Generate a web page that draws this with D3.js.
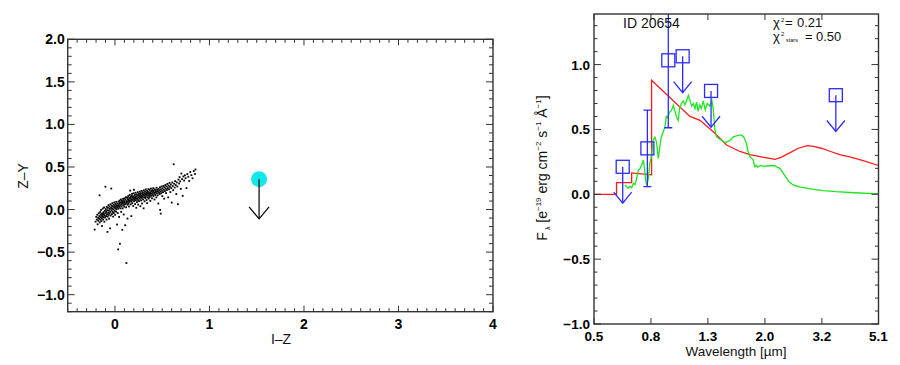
<!DOCTYPE html>
<html><head><meta charset="utf-8">
<script src="https://cdn.jsdelivr.net/npm/d3@7"></script>
<style>
html,body{margin:0;padding:0;background:#fff;}
text{font-family:"Liberation Sans",Arial,Helvetica,sans-serif;}
</style></head>
<body>
<svg id="c" width="900" height="365"></svg>
<script>
// ---------- DATA ----------
// Left panel: field sources, flat list of (I-Z, Z-Y) pairs
const scatterIZZY = [
-0.215,-0.235,-0.205,-0.142,-0.198,-0.085,-0.192,-0.118,-0.187,-0.061,-0.183,-0.173,-0.178,-0.097,-0.176,-0.132,
-0.171,-0.044,-0.168,-0.108,-0.165,-0.076,-0.163,0.168,-0.161,-0.151,-0.157,-0.029,-0.155,-0.091,-0.152,-0.118,
-0.149,-0.057,-0.147,-0.004,-0.144,-0.136,-0.142,-0.072,-0.139,-0.101,-0.137,-0.193,-0.135,-0.046,-0.132,-0.083,
-0.129,0.012,-0.127,-0.062,-0.125,-0.117,-0.122,-0.031,-0.119,-0.089,-0.117,-0.052,-0.115,0.024,-0.112,-0.143,
-0.109,-0.068,-0.107,-0.015,-0.104,-0.094,-0.101,0.268,-0.099,-0.041,-0.097,0.005,-0.094,-0.077,-0.092,-0.026,
-0.089,-0.118,-0.087,0.031,-0.084,-0.055,-0.082,-0.008,-0.079,-0.262,-0.077,-0.083,-0.075,0.019,-0.072,-0.037,
-0.069,0.052,-0.067,-0.064,-0.064,-0.012,-0.062,-0.107,-0.059,0.036,-0.057,-0.046,-0.055,0.008,-0.052,-0.221,
-0.049,-0.027,-0.047,0.063,-0.045,-0.071,-0.042,0.021,-0.039,0.247,-0.037,-0.009,-0.035,0.044,-0.032,-0.053,
-0.029,0.011,-0.027,0.075,-0.024,-0.028,-0.022,0.037,-0.019,-0.083,-0.017,0.002,-0.014,0.058,-0.012,-0.041,
-0.009,0.026,-0.006,0.084,-0.004,-0.015,-0.001,0.047,0.002,-0.062,0.004,0.013,0.007,0.066,0.009,0.032,
0.012,-0.024,0.014,0.091,0.017,0.004,0.019,0.051,0.022,-0.176,0.024,0.027,0.027,0.072,0.029,-0.041,
0.032,0.043,0.034,-0.468,0.036,0.011,0.039,0.095,0.041,0.058,0.044,-0.087,0.046,0.031,0.049,0.077,
0.051,0.106,0.053,-0.402,0.056,0.048,0.058,0.014,0.061,0.084,0.063,0.119,0.066,-0.027,0.068,0.062,
0.071,0.036,0.073,0.101,0.076,0.074,0.078,-0.238,0.081,0.013,0.083,0.089,0.086,0.126,0.088,0.052,
0.091,0.109,0.093,-0.058,0.096,0.078,0.098,0.034,0.101,0.132,0.103,0.094,0.106,0.061,0.108,-0.184,
0.111,0.117,0.113,0.073,0.116,0.145,0.118,0.026,0.121,-0.628,0.123,0.101,0.126,0.082,0.128,0.139,
0.131,0.057,0.133,-0.106,0.136,0.121,0.138,0.093,0.141,0.158,0.143,0.068,0.146,0.112,0.148,0.036,
0.151,0.137,0.153,0.089,0.156,0.172,0.158,0.104,0.161,0.223,0.163,0.127,0.166,0.061,0.168,0.148,
0.171,0.096,0.173,-0.077,0.176,0.163,0.178,0.118,0.181,0.184,0.183,0.075,0.186,0.139,0.188,0.107,
0.191,0.156,0.193,0.042,0.196,0.128,0.198,0.191,0.201,0.232,0.203,0.097,0.206,0.145,0.208,0.118,
0.211,0.171,0.213,0.064,0.216,0.136,0.218,0.198,0.221,0.109,0.223,0.152,0.226,0.021,0.228,0.127,
0.231,0.179,0.233,0.087,0.236,0.161,0.238,0.134,0.241,0.204,0.244,0.112,0.246,0.058,0.249,0.168,
0.251,0.142,0.254,0.186,0.256,0.098,0.259,0.153,0.262,0.211,0.264,0.127,0.267,0.174,0.269,0.039,
0.272,0.148,0.274,0.193,0.277,0.108,0.279,0.161,0.282,0.219,0.285,0.137,0.287,0.071,0.290,0.182,
0.292,0.156,0.295,0.203,0.297,0.119,0.300,0.172,0.303,0.014,0.305,0.226,0.308,0.145,0.310,0.191,
0.313,0.097,0.315,0.167,0.318,0.212,0.321,0.134,0.323,0.181,0.326,0.238,0.328,0.152,0.331,0.198,
0.334,0.112,0.336,0.173,0.339,0.221,0.341,0.076,0.344,0.186,0.347,0.143,0.349,0.207,0.352,0.164,
0.355,0.241,0.357,0.128,0.360,0.193,0.363,0.172,0.366,0.229,0.368,0.148,0.371,0.204,0.374,0.101,
0.377,0.183,0.380,0.247,0.383,0.161,0.386,0.216,0.389,0.192,0.392,0.132,0.395,0.229,0.398,0.174,
0.401,0.205,0.405,0.251,0.408,0.158,0.411,0.219,0.414,0.186,0.418,0.118,0.421,0.238,0.424,0.197,
0.428,0.171,0.431,0.226,0.434,0.209,0.438,0.143,0.441,0.256,0.445,0.191,0.448,0.232,0.452,0.167,
0.455,0.214,0.459,0.071,0.462,0.243,0.466,0.198,0.469,0.226,0.473,0.181,0.476,0.262,0.478,-0.004,
0.481,0.212,0.484,-0.048,0.486,0.238,0.490,0.192,0.494,0.271,0.497,0.221,0.501,0.158,0.505,0.249,
0.509,0.204,0.513,0.277,0.517,0.232,0.521,0.128,0.525,0.261,0.529,0.216,0.533,0.289,0.537,0.244,
0.541,0.193,0.546,0.272,0.550,0.229,0.554,0.301,0.559,0.253,0.563,0.143,0.568,0.281,0.572,0.238,
0.577,0.312,0.581,0.267,0.586,0.206,0.591,0.294,0.596,0.251,0.601,0.082,0.606,0.318,0.611,0.276,
0.616,0.227,0.621,0.532,0.626,0.303,0.632,0.258,0.637,0.334,0.643,0.287,0.649,0.182,0.654,0.319,
0.660,0.271,0.666,0.063,0.672,0.352,0.678,0.306,0.684,0.381,0.690,0.331,0.697,0.243,0.703,0.423,
0.710,0.358,0.717,0.161,0.724,0.389,0.732,0.341,0.740,0.402,0.748,0.368,0.757,0.252,0.766,0.417,
0.776,0.386,0.786,0.336,0.797,0.441,0.809,0.404,0.821,0.367,0.834,0.452,0.847,0.418,0.852,0.471
];
const targetIZ = 1.525, targetZY = 0.357, targetZYlimit = -0.11;
const leftXTicks = [0,1,2,3,4];
const leftYTicks = [-1.0,-0.5,0.0,0.5,1.0,1.5,2.0];

// Right panel: SED
const modelWl   = [0.50,0.601,0.601,0.680,0.680,0.800,0.800,1.094,1.188,1.342,1.476,1.645,1.785,2.00,2.19,2.30,2.45,2.65,2.85,3.00,3.20,3.45,3.72,4.10,4.50,5.10];
const modelFlux = [0.0,0.0,0.09,0.09,0.165,0.150,0.879,0.60,0.57,0.47,0.38,0.33,0.305,0.285,0.27,0.285,0.315,0.355,0.375,0.37,0.355,0.33,0.305,0.285,0.26,0.222];
const starWl   = [0.644,0.652,0.661,0.670,0.680,0.690,0.699,0.708,0.718,0.728,0.738,0.748,0.755,0.762,0.769,0.779,0.789,0.800,0.811,0.822,0.833,0.845,0.855,0.866,0.880,0.892,0.902,0.912,0.925,0.942,0.955,0.968,0.980,0.995,1.005,1.020,1.037,1.050,1.060,1.080,1.095,1.110,1.125,1.140,1.155,1.170,1.185,1.200,1.220,1.240,1.260,1.288,1.310,1.323,1.342,1.360,1.385,1.410,1.436,1.470,1.500,1.530,1.558,1.600,1.645,1.668,1.700,1.730,1.760,1.785,1.83,1.86,1.88,1.90,1.95,2.00,2.045,2.10,2.19,2.23,2.28,2.35,2.45,2.54,2.70,3.00,3.25,3.60,4.20,5.10];
const starFlux = [0.072,0.058,0.046,0.062,0.050,0.085,0.075,0.12,0.187,0.20,0.226,0.264,0.20,0.11,0.07,0.12,0.24,0.30,0.418,0.44,0.40,0.277,0.36,0.44,0.48,0.52,0.60,0.59,0.63,0.648,0.686,0.64,0.60,0.57,0.66,0.70,0.72,0.69,0.71,0.763,0.72,0.68,0.70,0.66,0.71,0.64,0.69,0.66,0.72,0.65,0.70,0.68,0.72,0.66,0.494,0.443,0.43,0.42,0.405,0.40,0.41,0.42,0.443,0.45,0.456,0.456,0.44,0.40,0.33,0.29,0.27,0.212,0.225,0.21,0.222,0.215,0.218,0.22,0.22,0.21,0.20,0.16,0.10,0.072,0.055,0.038,0.028,0.02,0.012,0.003];
// photometry: wavelength, flux, error (0 = upper limit)
const photWl    = [0.632,0.773,0.917,1.031,1.300,3.60];
const photFlux  = [0.212,0.354,1.033,1.064,0.797,0.764];
const photErr   = [0,0.295,0.52,0,0,0];
const limitDrop = 0.28;
const rightXTicks = [0.5,0.796,1.267,2.018,3.213,5.1];
const rightXLabels = ["0.5","0.8","1.3","2.0","3.2","5.1"];
const rightYTicks = [-1.0,-0.5,0.0,0.5,1.0];

// ---------- DRAW ----------
const svg = d3.select("#c");
const frameCol = "#333";
const fmtMinus = v => (v<0?"\u2212":"") + Math.abs(v).toFixed(1);

function frameAxes(g, x, y, opt){
  const [x0,x1] = x.range(), [y0,y1] = y.range();
  const tk = g.append("g").attr("stroke",frameCol).attr("stroke-width",1);
  opt.yMinor.forEach(v=>{
    const yy = y(v);
    tk.append("line").attr("x1",x0).attr("x2",x0+opt.yMinorLen).attr("y1",yy).attr("y2",yy);
    tk.append("line").attr("x1",x1).attr("x2",x1-opt.yMinorLen).attr("y1",yy).attr("y2",yy);
  });
  opt.yMajor.forEach(v=>{
    const yy = y(v);
    tk.append("line").attr("x1",x0).attr("x2",x0+opt.yMajorLen).attr("y1",yy).attr("y2",yy);
    tk.append("line").attr("x1",x1).attr("x2",x1-opt.yMajorLen).attr("y1",yy).attr("y2",yy);
  });
  opt.xMinor.forEach(v=>{
    const xx = x(v);
    tk.append("line").attr("x1",xx).attr("x2",xx).attr("y1",y0).attr("y2",y0-opt.xMinorLen);
    tk.append("line").attr("x1",xx).attr("x2",xx).attr("y1",y1).attr("y2",y1+opt.xMinorLen);
  });
  opt.xMajor.forEach(v=>{
    const xx = x(v);
    tk.append("line").attr("x1",xx).attr("x2",xx).attr("y1",y0).attr("y2",y0-opt.xMajorLen);
    tk.append("line").attr("x1",xx).attr("x2",xx).attr("y1",y1).attr("y2",y1+opt.xMajorLen);
  });
  g.append("rect").attr("x",x0).attr("y",y1).attr("width",x1-x0).attr("height",y0-y1)
    .attr("fill","none").attr("stroke",frameCol).attr("stroke-width",1.4);
  const lab = g.append("g").attr("font-size",opt.fs).attr("font-weight","bold").attr("fill","#000");
  opt.xMajor.forEach((v,i)=>{
    lab.append("text").attr("x",x(v)).attr("y",y0+opt.xLabOff).attr("text-anchor","middle")
      .text(opt.xFmt(v,i));
  });
  opt.yMajor.forEach(v=>{
    lab.append("text").attr("x",x0-opt.yLabOff).attr("y",y(v)+5).attr("text-anchor","end")
      .text(fmtMinus(v));
  });
}

// ----- Left panel -----
const xL = d3.scaleLinear().domain([-0.5,4]).range([67.7,493]);
const yL = d3.scaleLinear().domain([-1.2,2.0]).range([311.7,39.3]);
const gL = svg.append("g");
const leftPts = d3.range(0, scatterIZZY.length, 2).map(i=>[scatterIZZY[i], scatterIZZY[i+1]]);
gL.append("g").selectAll("rect").data(leftPts).join("rect")
  .attr("x",d=>xL(d[0])-0.9).attr("y",d=>yL(d[1])-0.9).attr("width",1.8).attr("height",1.8)
  .attr("fill","#000");
gL.append("circle").attr("cx",xL(targetIZ)).attr("cy",yL(targetZY)).attr("r",8).attr("fill","#12e8ea");
const ax = xL(targetIZ), ayT = yL(targetZYlimit);
gL.append("line").attr("x1",ax).attr("x2",ax).attr("y1",yL(targetZY)).attr("y2",ayT).attr("stroke","#000").attr("stroke-width",1.2);
gL.append("polyline").attr("points",`${ax-10},${ayT-12} ${ax},${ayT} ${ax+10},${ayT-12}`)
  .attr("fill","none").attr("stroke","#000").attr("stroke-width",1.2);
frameAxes(gL,xL,yL,{
  yMajor:leftYTicks, yMinor:d3.range(-12,21).map(v=>v/10).filter(v=>Math.abs(v*2-Math.round(v*2))>1e-6),
  xMajor:leftXTicks, xMinor:d3.range(-5,41).map(v=>v/10).filter(v=>Math.abs(v-Math.round(v))>1e-6),
  yMajorLen:7, yMinorLen:4, xMajorLen:6, xMinorLen:3.5, fs:14,
  xLabOff:17.5, yLabOff:3, xFmt:v=>String(v)
});
gL.append("text").attr("x",281).attr("y",344).attr("text-anchor","middle").attr("font-size",14).attr("fill","#111").text("I\u2013Z");
gL.append("text").attr("transform","translate(28,176) rotate(-90)").attr("text-anchor","middle").attr("font-size",14).attr("fill","#111").text("Z\u2013Y");

// ----- Right panel -----
const xR = d3.scaleLog().domain([0.5,5.1]).range([594,878.5]);
const yR = d3.scaleLinear().domain([-1.0,1.39]).range([324,14]);
const gR = svg.append("g");
svg.append("defs").append("clipPath").attr("id","clipR").append("rect")
  .attr("x",594).attr("y",14).attr("width",284.5).attr("height",310);
const plotR = gR.append("g").attr("clip-path","url(#clipR)");
const line = d3.line().x(d=>xR(d[0])).y(d=>yR(d[1]));
plotR.append("path").attr("d",line(modelWl.map((w,i)=>[w,modelFlux[i]])))
  .attr("fill","none").attr("stroke","#ff1a1a").attr("stroke-width",1.3);
plotR.append("path").attr("d",line(starWl.map((w,i)=>[w,starFlux[i]])))
  .attr("fill","none").attr("stroke","#1ee61e").attr("stroke-width",1.3);
const blue = "#2b2bff";
const pg = plotR.append("g").attr("stroke",blue).attr("fill","none").attr("stroke-width",1.3);
photWl.forEach((w,i)=>{
  const cx = xR(w), cy = yR(photFlux[i]);
  pg.append("rect").attr("x",cx-6.5).attr("y",cy-6.5).attr("width",13).attr("height",13);
  if(photErr[i]>0){
    const yt = yR(photFlux[i]+photErr[i]), yb = yR(photFlux[i]-photErr[i]);
    pg.append("line").attr("x1",cx).attr("x2",cx).attr("y1",yt).attr("y2",yb);
    pg.append("line").attr("x1",cx-4).attr("x2",cx+4).attr("y1",yt).attr("y2",yt);
    pg.append("line").attr("x1",cx-4).attr("x2",cx+4).attr("y1",yb).attr("y2",yb);
  } else {
    const yt = yR(photFlux[i]-limitDrop);
    pg.append("line").attr("x1",cx).attr("x2",cx).attr("y1",cy).attr("y2",yt);
    pg.append("polyline").attr("points",`${cx-9},${yt-11} ${cx},${yt} ${cx+9},${yt-11}`);
  }
});
frameAxes(gR,xR,yR,{
  yMajor:rightYTicks, yMinor:d3.range(-10,14).map(v=>v/10).filter(v=>Math.abs(v*2-Math.round(v*2))>1e-6),
  xMajor:rightXTicks, xMinor:[],
  yMajorLen:7, yMinorLen:3.5, xMajorLen:6, xMinorLen:0, fs:13.5,
  xLabOff:17, yLabOff:4, xFmt:(v,i)=>rightXLabels[i]
});
gR.append("text").attr("x",736).attr("y",356).attr("text-anchor","middle").attr("font-size",13.5).attr("fill","#111").text("Wavelength [\u00b5m]");
const yt = gR.append("text").attr("transform","translate(547,168) rotate(-90)").attr("text-anchor","middle").attr("font-size",14).attr("fill","#111");
yt.append("tspan").text("F");
yt.append("tspan").attr("font-size",7).attr("dy",3).text("\u00a0\u03bb\u00a0\u00a0");
yt.append("tspan").attr("dy",-3).text("[e");
yt.append("tspan").attr("font-size",8).attr("dy",-6).text("\u221219");
yt.append("tspan").attr("dy",6).text(" erg cm");
yt.append("tspan").attr("font-size",8).attr("dy",-6).text("\u22122");
yt.append("tspan").attr("dy",6).text(" s");
yt.append("tspan").attr("font-size",8).attr("dy",-6).text("\u22121");
yt.append("tspan").attr("dy",6).text(" \u00c5");
yt.append("tspan").attr("font-size",8).attr("dy",-6).text("\u22121");
yt.append("tspan").attr("dy",6).text("]");

gR.append("text").attr("x",623).attr("y",28).attr("font-size",14).attr("fill","#111").text("ID 20654");
const c1 = gR.append("text").attr("y",27).attr("font-size",13).attr("fill","#111");
c1.append("tspan").attr("x",773).text("\u03c7");
c1.append("tspan").attr("x",781).attr("font-size",6).attr("dy",-5).text("2");
c1.append("tspan").attr("x",785).attr("dy",5).text("=");
c1.append("tspan").attr("x",797).text("0.21");
const c2 = gR.append("text").attr("y",41).attr("font-size",13).attr("fill","#111");
c2.append("tspan").attr("x",773).text("\u03c7");
c2.append("tspan").attr("x",781).attr("font-size",6).attr("dy",-5).text("2");
c2.append("tspan").attr("x",786).attr("font-size",5.5).attr("dy",6).text("stars");
c2.append("tspan").attr("x",805).attr("dy",-1).text("=");
c2.append("tspan").attr("x",816).text("0.50");
</script>
</body></html>
